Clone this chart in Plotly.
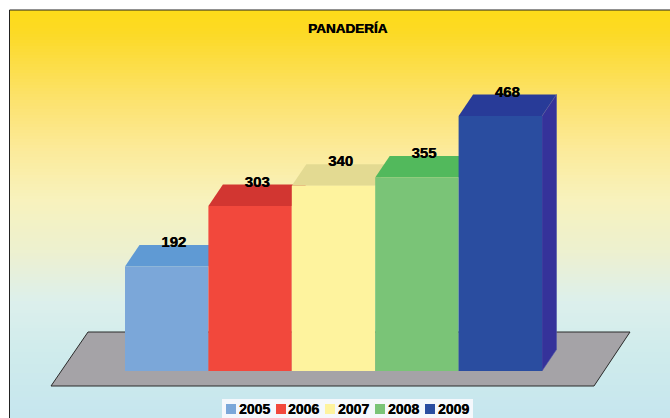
import plotly.graph_objects as go
import numpy as np

title = "PANADERÍA"
years = ["2005", "2006", "2007", "2008", "2009"]
values = [192, 303, 340, 355, 468]
front_colors = ["#7BA7D9", "#F2483C", "#FEF39E", "#7AC477", "#2A4DA0"]
top_colors = ["#5F9AD4", "#D23631", "#E3DA92", "#52B95C", "#283B98"]
side_color = "#35329A"
floor_color = "#A5A3A7"

W, H = 670, 418
# pixel calibration of the axes: category centres and value scale
PX_PER_CAT = 83.4
PX_PER_VAL = 0.5449
X0_PX = 166.7   # pixel of category 0 centre
Y0_PX = 371     # pixel of value 0
xr = [-X0_PX / PX_PER_CAT, (W - X0_PX) / PX_PER_CAT]
yr = [-(H - Y0_PX) / PX_PER_VAL, Y0_PX / PX_PER_VAL]
DX = 14.5 / PX_PER_CAT   # depth of the 3D extrusion
DY = 21.5 / PX_PER_VAL

def x_of(px): return (px - X0_PX) / PX_PER_CAT
def y_of(py): return (Y0_PX - py) / PX_PER_VAL

fig = go.Figure()

# background
stops_y = [10, 30, 100, 150, 200, 250, 300, 350, 418]
stops_c = [(253, 220, 26), (253, 218, 36), (252, 227, 111), (252, 235, 156),
           (248, 243, 190), (237, 241, 208), (221, 240, 236), (208, 236, 236), (198, 230, 239)]
shapes = []
for py in range(10, H, 3):
    c = [int(np.interp(py, stops_y, [s[k] for s in stops_c])) for k in range(3)]
    shapes.append(dict(type="rect", xref="paper", yref="paper", x0=10 / W, x1=1,
                       y0=0, y1=1 - py / H, layer="below", line_width=0,
                       fillcolor=f"rgb({c[0]},{c[1]},{c[2]})"))
# frame
shapes.append(dict(type="line", xref="paper", yref="paper", x0=9.5 / W, x1=9.5 / W, y0=0, y1=1 - 10 / H,
                   layer="below", line=dict(color="#222222", width=1)))
shapes.append(dict(type="line", xref="paper", yref="paper", x0=9.5 / W, x1=1, y0=1 - 10 / H, y1=1 - 10 / H,
                   layer="below", line=dict(color="#222222", width=1)))

# floor
fx = [x_of(51), x_of(88), x_of(630), x_of(594), x_of(51)]
fy = [y_of(386), y_of(332), y_of(332), y_of(386), y_of(386)]
fig.add_trace(go.Scatter(x=fx, y=fy, mode="lines", fill="toself", fillcolor=floor_color,
                         line=dict(color="#2a2a2a", width=1), hoverinfo="skip", showlegend=False))

# top faces and side
for i, v in enumerate(values):
    l, r = i - 0.5, i + 0.5
    fig.add_trace(go.Scatter(x=[l, l + DX, r + DX, r, l], y=[v, v + DY, v + DY, v, v],
                             mode="lines", fill="toself", fillcolor=top_colors[i], line_width=0,
                             hoverinfo="skip", showlegend=False))
r = len(values) - 0.5
v = values[-1]
fig.add_trace(go.Scatter(x=[r, r + DX, r + DX, r, r], y=[v, v + DY, DY, 0, v],
                         mode="lines", fill="toself", fillcolor=side_color,
                         line=dict(color="#4F55A8", width=0.6), hoverinfo="skip", showlegend=False))

# front faces, on an overlaying axis pair
fig.add_trace(go.Bar(x=list(range(len(values))), y=values, width=1, marker=dict(color=front_colors, line_width=0),
                     xaxis="x2", yaxis="y2", showlegend=False, customdata=years,
                     hovertemplate="%{customdata}: %{y}<extra></extra>"))
num_font = dict(family="Liberation Sans", size=15, color="#000000", weight="bold",
                shadow="0.4px 0 0 #000")
fig.add_trace(go.Scatter(x=[i + 7 / PX_PER_CAT for i in range(len(values))],
                         y=[v + 23 / PX_PER_VAL for v in values],
                         text=[str(v) for v in values], mode="text", textposition="middle center",
                         textfont=num_font, xaxis="x2", yaxis="y2", hoverinfo="skip", showlegend=False))

# legend strip
shapes.append(dict(type="rect", xref="paper", yref="paper", x0=222 / W, x1=473 / W, y0=0, y1=1 - 399 / H,
                   line_width=0, fillcolor="#F5F8FC"))
swatch_px = [226, 276, 325, 375, 425]
text_px = [239, 288, 338, 388, 438]
annotations = [dict(text=title, xref="paper", yref="paper", x=347.5 / W, y=1 - 29 / H, showarrow=False,
                    xanchor="center", yanchor="middle",
                    font=dict(family="Liberation Sans", size=13.5, color="#000000",
                              weight="bold", shadow="0.6px 0 0 #000"))]
for s, t, yr_lab, c in zip(swatch_px, text_px, years, front_colors):
    shapes.append(dict(type="rect", xref="paper", yref="paper", x0=s / W, x1=(s + 10) / W,
                       y0=1 - 414 / H, y1=1 - 404 / H, line_width=0, fillcolor=c))
    annotations.append(dict(text=yr_lab, xref="paper", yref="paper", x=(t - 1) / W, y=1 - 408.5 / H,
                            showarrow=False, xanchor="left", yanchor="middle", borderpad=0,
                            font=dict(family="Liberation Sans", size=14, color="#000000", weight="bold",
                                      shadow="0.3px 0 0 #000")))

fig.update_layout(
    width=W, height=H, autosize=False,
    margin=dict(l=0, r=0, t=0, b=0, pad=0),
    paper_bgcolor="#FFFFFF", plot_bgcolor="rgba(0,0,0,0)",
    showlegend=False,
    xaxis=dict(range=xr, visible=False, fixedrange=True),
    yaxis=dict(range=yr, visible=False, fixedrange=True),
    xaxis2=dict(range=xr, visible=False, fixedrange=True, overlaying="x"),
    yaxis2=dict(range=yr, visible=False, fixedrange=True, overlaying="y"),
    shapes=shapes, annotations=annotations,
)
fig.write_html("out.html", config=dict(displayModeBar=False),
               post_script="document.body.style.margin='0';document.documentElement.style.overflow='hidden';")
